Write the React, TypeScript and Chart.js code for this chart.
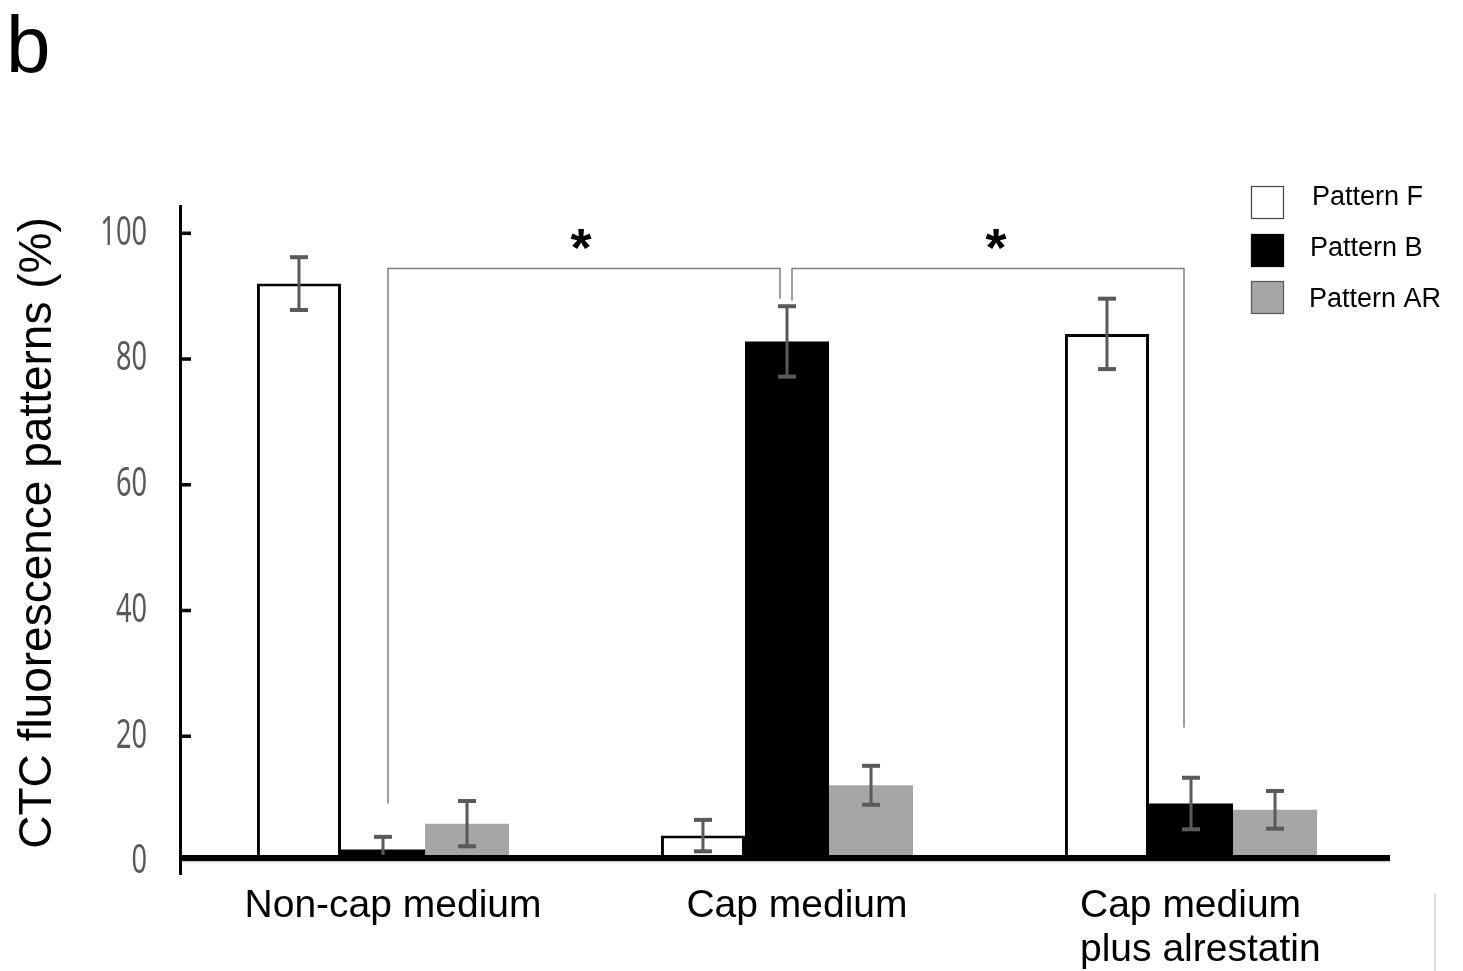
import React, { useEffect, useRef } from "react";
import { Chart, registerables } from "chart.js";

Chart.register(...registerables);

// ---- data ----
const categories = ["Non-cap medium", "Cap medium", "Cap medium plus alrestatin"];
const categoryLabelLines = [["Non-cap medium"], ["Cap medium"], ["Cap medium", "plus alrestatin"]];
const seriesNames = ["Pattern F", "Pattern B", "Pattern AR"];
const patternF = [92.0, 4.2, 84.0];
const patternB = [2.0, 82.8, 9.3];
const patternAR = [6.1, 12.2, 8.3];
const errorF = [4.2, 2.5, 5.6];
const errorB = [2.0, 5.6, 4.1];
const errorAR = [3.6, 3.1, 3.0];
const yTicks = [0, 20, 40, 60, 80, 100];
const yMax = 104.5;

// significance brackets: from (category, series) to (category, series)
const bracketFrom = [[0, 1], [1, 1]];
const bracketTo = [[1, 1], [2, 1]];
const bracketTop = [94.4, 94.4];
const bracketLeftEnd = [9.3, 89.3];
const bracketRightEnd = [89.6, 21.4];
const bracketMark = ["*", "*"];

const seriesFill = ["#ffffff", "#000000", "#a6a6a6"];
const seriesBorder = ["#000000", "#000000", "#a6a6a6"];

const W = 1463;
const H = 971;
const FONT = "'Liberation Sans', Arial, sans-serif";

const decorations = {
  id: "decorations",
  afterDatasetsDraw(chart: any) {
    const ctx: CanvasRenderingContext2D = chart.ctx;
    const area = chart.chartArea;
    const y = chart.scales.y;
    const errs = [errorF, errorB, errorAR];
    const vals = [patternF, patternB, patternAR];

    ctx.save();
    // error bars
    ctx.strokeStyle = "#5a5a5a";
    ctx.fillStyle = "#5a5a5a";
    for (let d = 0; d < 3; d++) {
      const meta = chart.getDatasetMeta(d);
      meta.data.forEach((bar: any, i: number) => {
        const x = bar.x;
        const top = y.getPixelForValue(vals[d][i] + errs[d][i]);
        const bot = y.getPixelForValue(vals[d][i] - errs[d][i]);
        ctx.lineWidth = 3;
        ctx.beginPath();
        ctx.moveTo(x, top);
        ctx.lineTo(x, bot);
        ctx.stroke();
        ctx.fillRect(x - 9, top - 2, 18, 4);
        ctx.fillRect(x - 9, bot - 2, 18, 4);
      });
    }

    // x axis
    ctx.fillStyle = "#ffffff";
    ctx.fillRect(area.left, area.bottom - 2, area.right - area.left, 4);
    ctx.fillStyle = "#000000";
    ctx.fillRect(area.left, area.bottom - 7, 1209, 6);
    ctx.fillStyle = "#d4d4d4";
    ctx.fillRect(area.left, area.bottom - 1, 1209, 1.5);

    // y axis with inward ticks
    ctx.fillStyle = "#000000";
    ctx.fillRect(area.left - 2, area.top, 3, 875 - area.top);
    yTicks.forEach((t) => {
      if (t === 0) return;
      const ty = y.getPixelForValue(t);
      ctx.fillRect(area.left, ty - 1.75, 10, 3.5);
    });

    // y tick labels (condensed)
    ctx.fillStyle = "#595959";
    ctx.font = `40px 'Noto Sans', sans-serif`;
    ctx.textAlign = "right";
    ctx.textBaseline = "middle";
    yTicks.forEach((t) => {
      const ty = y.getPixelForValue(t);
      ctx.save();
      ctx.translate(147, ty);
      ctx.scale(0.68, 1);
      ctx.fillText(String(t), 0, 0);
      ctx.restore();
    });

    // category labels
    ctx.fillStyle = "#000000";
    ctx.font = `39px ${FONT}`;
    ctx.textBaseline = "alphabetic";
    const xs = chart.scales.x;
    categoryLabelLines.forEach((lines, i) => {
      const cx = xs.getPixelForValue(i);
      if (lines.length === 1) {
        ctx.textAlign = "center";
        ctx.fillText(lines[0], cx + 10, 917);
      } else {
        ctx.textAlign = "left";
        lines.forEach((ln, k) => ctx.fillText(ln, cx - 111, 917 + k * 44));
      }
    });

    // y title
    ctx.save();
    ctx.translate(51, 533);
    ctx.rotate(-Math.PI / 2);
    ctx.textAlign = "center";
    ctx.font = `46px ${FONT}`;
    ctx.fillText("CTC fluorescence patterns (%)", 0, 0);
    ctx.restore();

    // panel letter
    ctx.textAlign = "left";
    ctx.font = `80px ${FONT}`;
    ctx.fillText("b", 6, 72);

    // legend
    ctx.font = `27px ${FONT}`;
    ctx.textBaseline = "middle";
    const legendBoxY = [202, 250, 297];
    const legendTextY = [198, 249, 300];
    const legendTextX = [1312, 1310, 1309];
    seriesNames.forEach((name, i) => {
      ctx.fillStyle = seriesFill[i];
      ctx.fillRect(1251, legendBoxY[i] - 16, 33, 33);
      ctx.strokeStyle = i === 0 ? "#444444" : i === 1 ? "#000000" : "#555555";
      ctx.lineWidth = 1.2;
      ctx.strokeRect(1251.5, legendBoxY[i] - 15.5, 32, 32);
      ctx.fillStyle = "#000000";
      ctx.fillText(name, legendTextX[i], legendTextY[i]);
    });

    // significance brackets
    const markShift = [-3, 8];
    ctx.strokeStyle = "#7f7f7f";
    ctx.lineWidth = 1.5;
    bracketFrom.forEach((from, b) => {
      const to = bracketTo[b];
      const x1 = chart.getDatasetMeta(from[1]).data[from[0]].x + 5;
      const x2 = chart.getDatasetMeta(to[1]).data[to[0]].x - 7;
      const yt = y.getPixelForValue(bracketTop[b]);
      ctx.beginPath();
      ctx.moveTo(x1, y.getPixelForValue(bracketLeftEnd[b]));
      ctx.lineTo(x1, yt);
      ctx.lineTo(x2, yt);
      ctx.lineTo(x2, y.getPixelForValue(bracketRightEnd[b]));
      ctx.stroke();
      ctx.fillStyle = "#000000";
      ctx.font = `bold 54px ${FONT}`;
      ctx.textAlign = "center";
      ctx.textBaseline = "alphabetic";
      ctx.fillText(bracketMark[b], (x1 + x2) / 2 + markShift[b], 266);
    });

    // faint frame edge at lower right
    ctx.fillStyle = "#dddddd";
    ctx.fillRect(1434, 893, 2, 78);
    ctx.restore();
  },
};

export default function App() {
  const ref = useRef<HTMLCanvasElement | null>(null);

  useEffect(() => {
    document.body.style.margin = "0";
    document.body.style.overflow = "hidden";
    const canvas = ref.current;
    if (!canvas) return;
    const chart = new Chart(canvas, {
      type: "bar",
      data: {
        labels: categories,
        datasets: [patternF, patternB, patternAR].map((vals, i) => ({
          label: seriesNames[i],
          data: vals,
          backgroundColor: seriesFill[i],
          borderColor: seriesBorder[i],
          borderWidth: i === 0 ? 3 : 0,
          borderSkipped: "bottom",
          categoryPercentage: 0.624,
          barPercentage: 1,
        })),
      },
      options: {
        responsive: false,
        animation: false,
        devicePixelRatio: 1,
        layout: { padding: { left: 181, right: W - 1393, top: 205, bottom: H - 862 } },
        plugins: { legend: { display: false }, tooltip: { enabled: false } },
        scales: {
          x: { display: false },
          y: { display: false, min: 0, max: yMax },
        },
      },
      plugins: [decorations],
    });
    return () => chart.destroy();
  }, []);

  return (
    <div style={{ width: W, height: H, background: "#fff" }}>
      <canvas ref={ref} width={W} height={H} style={{ display: "block" }} />
    </div>
  );
}
